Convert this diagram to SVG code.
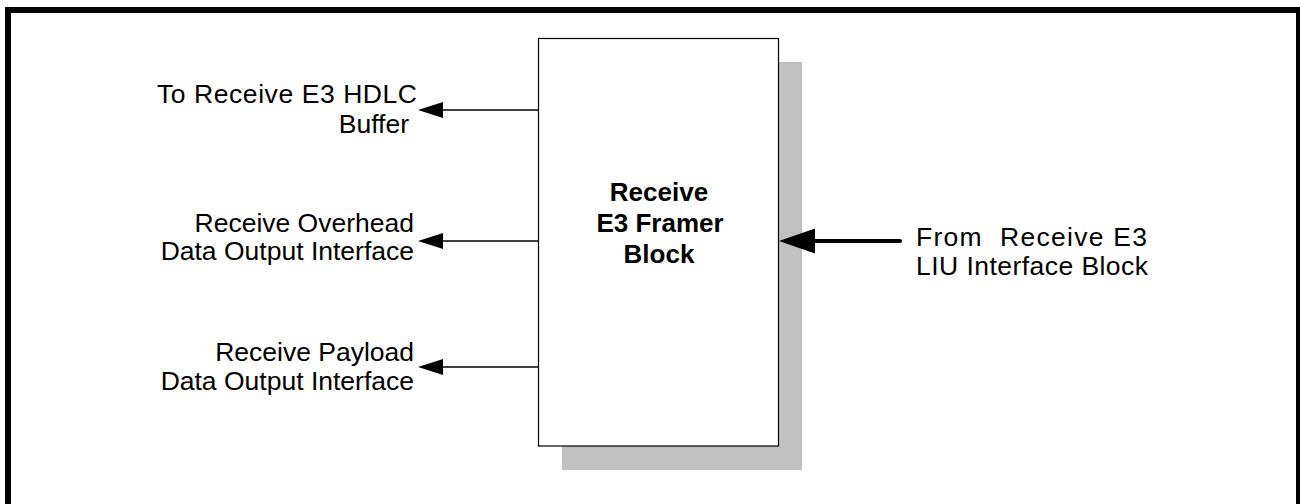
<svg xmlns="http://www.w3.org/2000/svg" width="1300" height="504" viewBox="0 0 1300 504">
<style>
.t{font-family:"Liberation Sans",Arial,sans-serif;font-size:26.5px;fill:#000}
.b{font-family:"Liberation Sans",Arial,sans-serif;font-size:26px;font-weight:bold;fill:#000;text-anchor:middle}
.e{text-anchor:end}
.ln{stroke:#000;stroke-width:1.6;fill:none}
</style>
<rect x="0" y="0" width="1300" height="504" fill="#fff"/>
<rect id="frame" x="8" y="10" width="1291" height="600" fill="none" stroke="#000" stroke-width="6"/>
<g id="block">
<rect x="562" y="62" width="240" height="408" fill="#c0c0c0"/>
<rect x="538.5" y="38.5" width="240" height="407.5" fill="#fff" stroke="#000" stroke-width="1.2"/>
<text class="b" x="659" y="201">Receive</text>
<text class="b" x="660" y="232">E3 Framer</text>
<text class="b" x="659" y="263">Block</text>
</g>
<g id="connectors">
<line class="ln" x1="538" y1="110" x2="440" y2="110"/>
<polygon points="418,110 443,102 443,118" fill="#000"/>
<line class="ln" x1="538" y1="241" x2="440" y2="241"/>
<polygon points="418,241 443,233 443,249" fill="#000"/>
<line class="ln" x1="538" y1="367" x2="440" y2="367"/>
<polygon points="418,367 443,359 443,375" fill="#000"/>
<line x1="900" y1="241" x2="812" y2="241" stroke="#000" stroke-width="4" stroke-linecap="round"/>
<polygon points="779,241 815,228.5 815,253.5" fill="#000"/>
</g>
<g id="out-hdlc">
<text class="t e" x="417" y="103" textLength="260" lengthAdjust="spacing">To Receive E3 HDLC</text>
<text class="t e" x="409" y="133">Buffer</text>
</g>
<g id="out-overhead">
<text class="t e" x="414" y="232">Receive Overhead</text>
<text class="t e" x="414" y="260">Data Output Interface</text>
</g>
<g id="out-payload">
<text class="t e" x="414" y="361">Receive Payload</text>
<text class="t e" x="414" y="390">Data Output Interface</text>
</g>
<g id="in-liu">
<text class="t" x="916" y="246" textLength="231" lengthAdjust="spacing" xml:space="preserve">From  Receive E3</text>
<text class="t" x="916" y="275" textLength="232" lengthAdjust="spacing">LIU Interface Block</text>
</g>
</svg>
